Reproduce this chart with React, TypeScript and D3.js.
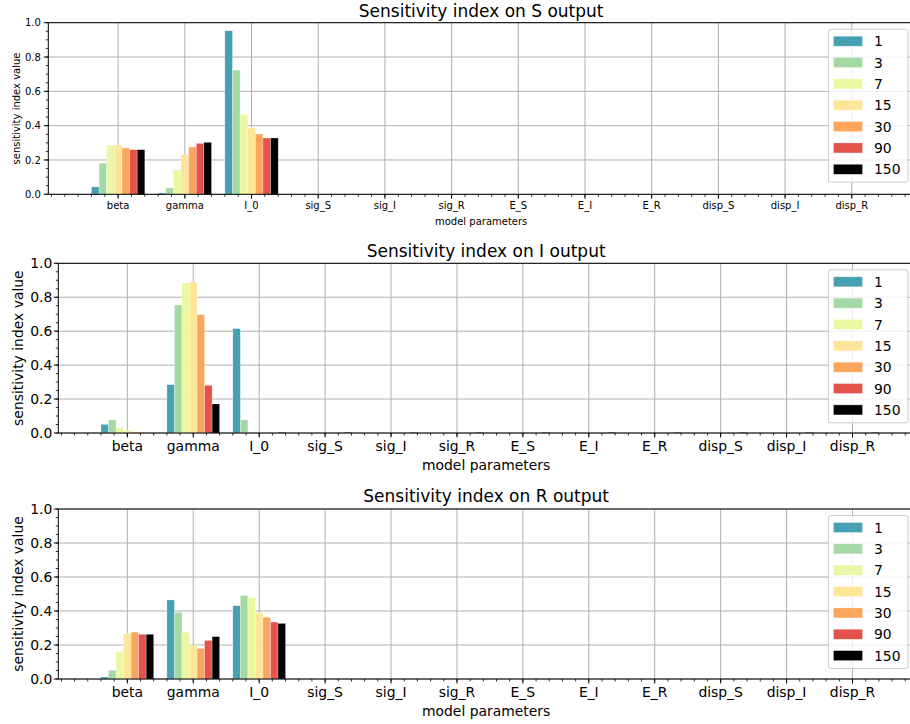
import * as d3 from 'd3'
import { useEffect } from 'react'

// model parameters on the x axis
const params = ['beta', 'gamma', 'I_0', 'sig_S', 'sig_I', 'sig_R', 'E_S', 'E_I', 'E_R', 'disp_S', 'disp_I', 'disp_R']
// time points (legend entries)
const times = ['1', '3', '7', '15', '30', '90', '150']
const colors = ['#48a0b3', '#a3d9a4', '#ebf7a3', '#fee597', '#fca55d', '#e4524a', '#000000']

// one row per time point, one value per parameter
const sIndex = [
  [0.043, 0.008, 0.953, 0, 0, 0, 0, 0, 0, 0, 0, 0],
  [0.182, 0.038, 0.724, 0, 0, 0, 0, 0, 0, 0, 0, 0],
  [0.287, 0.143, 0.466, 0, 0, 0, 0, 0, 0, 0, 0, 0],
  [0.287, 0.23, 0.388, 0, 0, 0, 0, 0, 0, 0, 0, 0],
  [0.27, 0.276, 0.351, 0, 0, 0, 0, 0, 0, 0, 0, 0],
  [0.26, 0.297, 0.328, 0, 0, 0, 0, 0, 0, 0, 0, 0],
  [0.26, 0.303, 0.328, 0, 0, 0, 0, 0, 0, 0, 0, 0],
]
const iIndex = [
  [0.051, 0.285, 0.615, 0, 0, 0, 0, 0, 0, 0, 0, 0],
  [0.077, 0.754, 0.077, 0, 0, 0, 0, 0, 0, 0, 0, 0],
  [0.031, 0.884, 0, 0, 0, 0, 0, 0, 0, 0, 0, 0],
  [0.012, 0.89, 0, 0, 0, 0, 0, 0, 0, 0, 0, 0],
  [0.006, 0.697, 0, 0, 0, 0, 0, 0, 0, 0, 0, 0],
  [0.002, 0.281, 0, 0, 0, 0, 0, 0, 0, 0, 0, 0],
  [0, 0.171, 0.004, 0.004, 0.004, 0.004, 0.004, 0.004, 0.004, 0.004, 0.004, 0.004],
]
const rIndex = [
  [0.012, 0.465, 0.431, 0, 0, 0, 0, 0, 0, 0, 0, 0],
  [0.051, 0.392, 0.492, 0, 0, 0, 0, 0, 0, 0, 0, 0],
  [0.163, 0.275, 0.478, 0, 0, 0, 0, 0, 0, 0, 0, 0],
  [0.267, 0.198, 0.388, 0, 0, 0, 0, 0, 0, 0, 0, 0],
  [0.276, 0.18, 0.363, 0, 0, 0, 0, 0, 0, 0, 0, 0],
  [0.263, 0.227, 0.335, 0, 0, 0, 0, 0, 0, 0, 0, 0],
  [0.263, 0.249, 0.327, 0, 0, 0, 0, 0, 0, 0, 0, 0],
]
const yTicks = [0, 0.2, 0.4, 0.6, 0.8, 1.0]

const FONT = 'DejaVu Sans, sans-serif'
const W = 910
const H = 724

const panels = [
  { title: 'Sensitivity index on S output', data: sIndex, top: 22.7, bottom: 194.3, left: 48.3, font: 10, titleY: 17, tickY: 209, labelY: 225, ylabX: 19.5, yPad: 7.5 },
  { title: 'Sensitivity index on I output', data: iIndex, top: 263.3, bottom: 433, left: 58.3, font: 13.9, titleY: 257, tickY: 450.6, labelY: 470, ylabX: 23, yPad: 6 },
  { title: 'Sensitivity index on R output', data: rIndex, top: 509, bottom: 679, left: 58.3, font: 13.9, titleY: 502, tickY: 697, labelY: 716, ylabX: 23, yPad: 6 },
]

function Panel({ p }: { p: typeof panels[number] }) {
  const right = 914
  const n = times.length
  const bw = 0.8 / n
  // matplotlib-like x limits: bar extents with 5% margins
  const lo = -(n / 2 + 0.5) * bw
  const hi = params.length - 1 + (n / 2 - 0.5) * bw
  const m = (hi - lo) * 0.05
  const x = d3.scaleLinear().domain([lo - m, hi + m]).range([p.left, right])
  const y = d3.scaleLinear().domain([0, 1]).range([p.bottom, p.top])
  const minorX = d3.range(Math.ceil((lo - m) / 0.2), Math.floor((hi + m) / 0.2) + 1).map(k => k * 0.2)
  const minorY = d3.range(0, 21).map(k => k * 0.05)
  const pxW = x(bw) - x(0)
  const cx = (p.left + right) / 2
  const legTop = p.top + 6.5
  const rowH = 21.35

  return (
    <g>
      {/* grid */}
      {params.map((_, i) => (
        <line key={'gx' + i} x1={x(i)} x2={x(i)} y1={p.top} y2={p.bottom} stroke="#b0b0b0" strokeWidth={1} />
      ))}
      {yTicks.map(t => (
        <line key={'gy' + t} x1={p.left} x2={right} y1={y(t)} y2={y(t)} stroke="#b0b0b0" strokeWidth={1} />
      ))}
      {/* bars */}
      {p.data.map((row, s) =>
        row.map((v, i) => {
          if (v <= 0) return null
          const x0 = x(i + (s - n / 2) * bw)
          return (
            <rect key={s + '-' + i} x={x0} width={pxW} y={y(v)} height={y(0) - y(v)}
              fill={colors[s]} stroke="#ffffff" strokeOpacity={0.45} strokeWidth={0.6} />
          )
        })
      )}
      {/* spines */}
      <line x1={p.left} x2={right} y1={p.top} y2={p.top} stroke="#000" strokeWidth={1} />
      <line x1={p.left} x2={right} y1={p.bottom} y2={p.bottom} stroke="#000" strokeWidth={1} />
      <line x1={p.left} x2={p.left} y1={p.top} y2={p.bottom} stroke="#000" strokeWidth={1} />
      {/* x ticks */}
      {minorX.map(t => (
        <line key={'mx' + t} x1={x(t)} x2={x(t)} y1={p.bottom} y2={p.bottom + 2.5} stroke="#000" strokeWidth={0.8} />
      ))}
      {params.map((c, i) => (
        <g key={'tx' + c}>
          <line x1={x(i)} x2={x(i)} y1={p.bottom} y2={p.bottom + 4.5} stroke="#000" strokeWidth={1} />
          <text x={x(i)} y={p.tickY} textAnchor="middle" fontSize={p.font} fontFamily={FONT} fill="#000">{c}</text>
        </g>
      ))}
      {/* y ticks */}
      {minorY.map(t => (
        <line key={'my' + t} x1={p.left - 2.5} x2={p.left} y1={y(t)} y2={y(t)} stroke="#000" strokeWidth={0.8} />
      ))}
      {yTicks.map(t => (
        <g key={'ty' + t}>
          <line x1={p.left - 4.5} x2={p.left} y1={y(t)} y2={y(t)} stroke="#000" strokeWidth={1} />
          <text x={p.left - p.yPad} y={y(t)} dy="0.36em" textAnchor="end" fontSize={p.font} fontFamily={FONT} fill="#000">{d3.format('.1f')(t)}</text>
        </g>
      ))}
      {/* labels */}
      <text x={cx} y={p.titleY} textAnchor="middle" fontSize={17} fontFamily={FONT} fill="#000">{p.title}</text>
      <text x={cx} y={p.labelY} textAnchor="middle" fontSize={p.font} fontFamily={FONT} fill="#000">model parameters</text>
      <text transform={`translate(${p.ylabX},${(p.top + p.bottom) / 2}) rotate(-90)`} textAnchor="middle" fontSize={p.font} fontFamily={FONT} fill="#000">sensitivity index value</text>
      {/* legend */}
      <rect x={828.5} y={legTop} width={79.5} height={153} rx={2.5} fill="#ffffff" fillOpacity={0.8} stroke="#cccccc" strokeWidth={1} />
      {times.map((t, s) => {
        const cy = legTop + 12 + s * rowH
        return (
          <g key={'lg' + t}>
            <rect x={833.5} y={cy - 5} width={29} height={10} fill={colors[s]} stroke="#ffffff" strokeOpacity={0.45} strokeWidth={0.6} />
            <text x={874} y={cy} dy="0.36em" fontSize={13.9} fontFamily={FONT} fill="#000">{t}</text>
          </g>
        )
      })}
    </g>
  )
}

export default function App() {
  useEffect(() => {
    document.body.style.margin = '0'
  }, [])
  return (
    <svg width={W} height={H} style={{ display: 'block', background: '#fff' }}>
      <rect width={W} height={H} fill="#fff" />
      {panels.map(p => <Panel key={p.title} p={p} />)}
    </svg>
  )
}
